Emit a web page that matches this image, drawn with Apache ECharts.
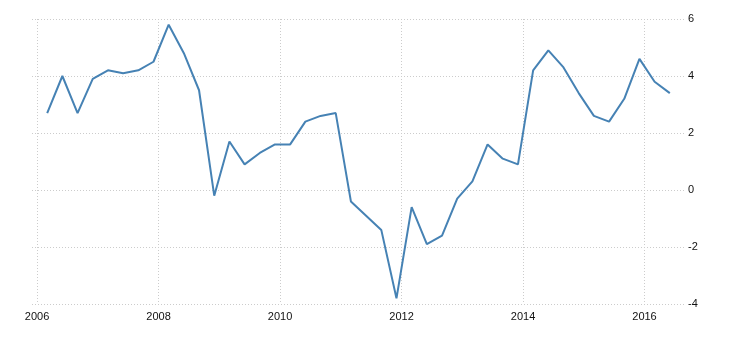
<!DOCTYPE html>
<html>
<head>
<meta charset="utf-8">
<script src="https://cdn.jsdelivr.net/npm/echarts@6/dist/echarts.min.js"></script>
<style>html,body{margin:0;padding:0;background:#fff}#c{width:730px;height:340px}</style>
</head>
<body>
<div id="c"></div>
<script>
var dates = [
  '2006-03','2006-06','2006-09','2006-12',
  '2007-03','2007-06','2007-09','2007-12',
  '2008-03','2008-06','2008-09','2008-12',
  '2009-03','2009-06','2009-09','2009-12',
  '2010-03','2010-06','2010-09','2010-12',
  '2011-03','2011-06','2011-09','2011-12',
  '2012-03','2012-06','2012-09','2012-12',
  '2013-03','2013-06','2013-09','2013-12',
  '2014-03','2014-06','2014-09','2014-12',
  '2015-03','2015-06','2015-09','2015-12',
  '2016-03','2016-06'
];
var values = [
  2.7, 4.0, 2.7, 3.9,
  4.2, 4.1, 4.2, 4.5,
  5.8, 4.8, 3.5, -0.2,
  1.7, 0.9, 1.3, 1.6,
  1.6, 2.4, 2.6, 2.7,
  -0.4, -0.9, -1.4, -3.8,
  -0.6, -1.9, -1.6, -0.3,
  0.3, 1.6, 1.1, 0.9,
  4.2, 4.9, 4.3, 3.4,
  2.6, 2.4, 3.2, 4.6,
  3.8, 3.4
];
var yTicks = [-4, -2, 0, 2, 4, 6];
var xTickYears = [2006, 2008, 2010, 2012, 2014, 2016];
var xMin = '2005-12', xMax = '2016-09';

function toYear(s) {
  var p = s.split('-');
  return +p[0] + (+p[1] - 1) / 12;
}
var chart = echarts.init(document.getElementById('c'), null, {renderer: 'canvas'});
var gridStyle = {color: '#cccccc', type: [1, 2], width: 1};
chart.setOption({
  animation: false,
  backgroundColor: '#fff',
  grid: {left: 32, right: 45, top: 19, bottom: 36, containLabel: false},
  xAxis: {
    type: 'value',
    min: toYear(xMin), max: toYear(xMax),
    axisLine: {show: false},
    axisTick: {show: false, customValues: xTickYears},
    splitLine: {show: true, lineStyle: gridStyle},
    axisLabel: {
      color: '#111', fontFamily: 'Liberation Sans, Arial', fontSize: 11, margin: 7,
      customValues: xTickYears,
      formatter: function (v) { return String(Math.round(v)); }
    }
  },
  yAxis: {
    type: 'value', position: 'right',
    min: yTicks[0], max: yTicks[yTicks.length - 1], interval: 2,
    axisLine: {show: false},
    axisTick: {show: false},
    splitLine: {show: true, lineStyle: gridStyle},
    axisLabel: {color: '#111', fontFamily: 'Liberation Sans, Arial', fontSize: 11, margin: 3}
  },
  series: [{
    type: 'line',
    data: dates.map(function (d, i) { return [toYear(d), values[i]]; }),
    showSymbol: false,
    lineStyle: {color: '#4682b4', width: 2},
    itemStyle: {color: '#4682b4'}
  }]
});
</script>
</body>
</html>
